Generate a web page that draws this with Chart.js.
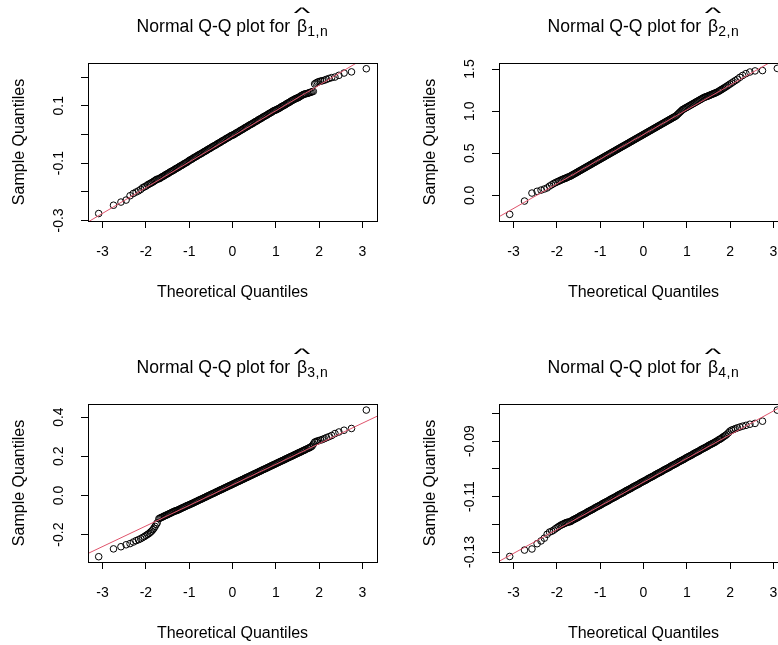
<!DOCTYPE html>
<html>
<head>
<meta charset="utf-8">
<script src="https://cdn.jsdelivr.net/npm/chart.js@4.4.1/dist/chart.umd.min.js"></script>
<style>
  html, body { margin: 0; padding: 0; background: #fff; }
  body { width: 778px; height: 645px; overflow: hidden; position: relative; font-family: "Liberation Sans", Arial, sans-serif; color: #000; }
  .panel { position: absolute; width: 411px; height: 341px; }
  .panel canvas { position: absolute; left: 0; top: 0; }
  .ttl { position: absolute; left: 0; top: 16.2px; width: 465px; text-align: center; font-size: 17.6px; line-height: 20px; white-space: nowrap; }
  .bh { position: relative; display: inline-block; margin-left: 2px; }
  .hat { position: absolute; left: 50%; top: -12.8px; transform: translateX(-50%) scale(2.0, 0.8); line-height: 20px; font-weight: 300; }
  .sub { font-size: 14px; letter-spacing: 0.6px; position: relative; top: 4px; }
</style>
</head>
<body>
<div class="panel" style="left:0;top:0"><canvas id="qq1" width="411" height="341"></canvas>
  <div class="ttl">Normal Q-Q plot for <span class="bh">β<span class="hat">^</span></span><span class="sub">1,n</span></div></div>
<div class="panel" style="left:411px;top:0"><canvas id="qq2" width="411" height="341"></canvas>
  <div class="ttl">Normal Q-Q plot for <span class="bh">β<span class="hat">^</span></span><span class="sub">2,n</span></div></div>
<div class="panel" style="left:0;top:341px"><canvas id="qq3" width="411" height="341"></canvas>
  <div class="ttl">Normal Q-Q plot for <span class="bh">β<span class="hat">^</span></span><span class="sub">3,n</span></div></div>
<div class="panel" style="left:411px;top:341px"><canvas id="qq4" width="411" height="341"></canvas>
  <div class="ttl">Normal Q-Q plot for <span class="bh">β<span class="hat">^</span></span><span class="sub">4,n</span></div></div>
<script>
// Q-Q 圖：理論分位數(四圖共用)與各估計量的樣本分位數，數值由圖上讀取
const theoQ = [
  -3.090, -2.748, -2.576, -2.457, -2.366, -2.290, -2.226, -2.170, -2.120, -2.075, -2.034,
  -1.995, -1.960, -1.927, -1.896, -1.866, -1.838, -1.812, -1.787, -1.762, -1.739,
  -1.700, -1.675, -1.650, -1.625, -1.600, -1.575, -1.550, -1.525,
  -1.500, -1.475, -1.450, -1.425, -1.400, -1.375, -1.350, -1.325,
  -1.300, -1.275, -1.250, -1.225, -1.200, -1.175, -1.150, -1.125,
  -1.100, -1.075, -1.050, -1.025, -1.000, -0.975, -0.950, -0.925,
  -0.900, -0.875, -0.850, -0.825, -0.800, -0.775, -0.750, -0.725,
  -0.700, -0.675, -0.650, -0.625, -0.600, -0.575, -0.550, -0.525,
  -0.500, -0.475, -0.450, -0.425, -0.400, -0.375, -0.350, -0.325,
  -0.300, -0.275, -0.250, -0.225, -0.200, -0.175, -0.150, -0.125,
  -0.100, -0.075, -0.050, -0.025, 0.000, 0.025, 0.050, 0.075,
  0.100, 0.125, 0.150, 0.175, 0.200, 0.225, 0.250, 0.275,
  0.300, 0.325, 0.350, 0.375, 0.400, 0.425, 0.450, 0.475,
  0.500, 0.525, 0.550, 0.575, 0.600, 0.625, 0.650, 0.675,
  0.700, 0.725, 0.750, 0.775, 0.800, 0.825, 0.850, 0.875,
  0.900, 0.925, 0.950, 0.975, 1.000, 1.025, 1.050, 1.075,
  1.100, 1.125, 1.150, 1.175, 1.200, 1.225, 1.250, 1.275,
  1.300, 1.325, 1.350, 1.375, 1.400, 1.425, 1.450, 1.475,
  1.500, 1.525, 1.550, 1.575, 1.600, 1.625, 1.650, 1.675,
  1.700,
  1.739, 1.762, 1.787, 1.812, 1.838, 1.866, 1.896, 1.927, 1.960, 1.995, 2.034, 2.075, 2.120, 2.170,
  2.226, 2.290, 2.366, 2.457, 2.576, 2.748, 3.090];

const sample1 = [
  -0.276, -0.247, -0.236, -0.229, -0.214, -0.206, -0.201, -0.197, -0.192, -0.186, -0.183,
  -0.180, -0.176, -0.173, -0.171, -0.168, -0.166, -0.163, -0.161, -0.158, -0.156,
  -0.155, -0.153, -0.150, -0.148, -0.146, -0.144, -0.141, -0.139,
  -0.137, -0.135, -0.132, -0.130, -0.128, -0.126, -0.124, -0.121,
  -0.119, -0.117, -0.115, -0.112, -0.110, -0.108, -0.106, -0.103,
  -0.101, -0.099, -0.097, -0.094, -0.091, -0.089, -0.087, -0.085,
  -0.082, -0.080, -0.078, -0.076, -0.073, -0.071, -0.069, -0.067,
  -0.065, -0.062, -0.060, -0.058, -0.056, -0.053, -0.051, -0.049,
  -0.047, -0.044, -0.042, -0.040, -0.038, -0.036, -0.033, -0.031,
  -0.029, -0.027, -0.024, -0.022, -0.020, -0.018, -0.015, -0.013,
  -0.011, -0.009, -0.006, -0.004, -0.003, -0.001, 0.001, 0.004,
  0.006, 0.008, 0.010, 0.013, 0.015, 0.017, 0.019, 0.022,
  0.024, 0.026, 0.028, 0.031, 0.033, 0.035, 0.037, 0.039,
  0.042, 0.044, 0.046, 0.048, 0.051, 0.053, 0.055, 0.057,
  0.060, 0.062, 0.064, 0.066, 0.068, 0.071, 0.073, 0.075,
  0.077, 0.080, 0.082, 0.084, 0.085, 0.087, 0.089, 0.091,
  0.093, 0.096, 0.098, 0.100, 0.102, 0.104, 0.107, 0.109,
  0.111, 0.113, 0.116, 0.118, 0.120, 0.122, 0.124, 0.126,
  0.127, 0.129, 0.131, 0.134, 0.136, 0.138, 0.140, 0.141,
  0.142,
  0.143, 0.145, 0.146, 0.147, 0.149, 0.150, 0.176, 0.179, 0.182, 0.184, 0.186, 0.187, 0.189, 0.192,
  0.195, 0.198, 0.200, 0.206, 0.214, 0.218, 0.229];

const sample2 = [
  -0.226, -0.068, 0.027, 0.048, 0.062, 0.075, 0.088, 0.110, 0.125, 0.140, 0.150,
  0.160, 0.168, 0.176, 0.183, 0.190, 0.196, 0.201, 0.206, 0.212, 0.218,
  0.225, 0.232, 0.240, 0.247, 0.254, 0.261, 0.269, 0.276,
  0.283, 0.291, 0.298, 0.305, 0.313, 0.320, 0.327, 0.335,
  0.342, 0.349, 0.357, 0.364, 0.371, 0.379, 0.386, 0.393,
  0.401, 0.408, 0.415, 0.423, 0.430, 0.437, 0.445, 0.452,
  0.459, 0.467, 0.474, 0.481, 0.489, 0.496, 0.503, 0.511,
  0.518, 0.525, 0.533, 0.540, 0.547, 0.555, 0.562, 0.569,
  0.577, 0.584, 0.591, 0.598, 0.606, 0.613, 0.620, 0.628,
  0.635, 0.642, 0.650, 0.657, 0.664, 0.672, 0.679, 0.686,
  0.694, 0.701, 0.708, 0.716, 0.723, 0.730, 0.738, 0.745,
  0.752, 0.760, 0.767, 0.774, 0.782, 0.789, 0.796, 0.804,
  0.811, 0.818, 0.826, 0.833, 0.840, 0.848, 0.855, 0.862,
  0.870, 0.877, 0.884, 0.892, 0.899, 0.906, 0.914, 0.921,
  0.928, 0.935, 0.943, 0.955, 0.967, 0.980, 0.992, 1.004,
  1.017, 1.024, 1.031, 1.039, 1.046, 1.053, 1.061, 1.068,
  1.075, 1.083, 1.090, 1.097, 1.105, 1.112, 1.119, 1.127,
  1.134, 1.141, 1.149, 1.156, 1.163, 1.168, 1.172, 1.177,
  1.182, 1.188, 1.193, 1.199, 1.204, 1.209, 1.214, 1.220,
  1.226,
  1.236, 1.244, 1.252, 1.260, 1.268, 1.277, 1.287, 1.297, 1.309, 1.321, 1.334, 1.348, 1.363, 1.380,
  1.402, 1.424, 1.446, 1.465, 1.478, 1.482, 1.508];

const sample3 = [
  -0.313, -0.273, -0.262, -0.252, -0.246, -0.238, -0.231, -0.226, -0.221, -0.215, -0.210,
  -0.204, -0.199, -0.194, -0.188, -0.182, -0.175, -0.167, -0.158, -0.148, -0.140,
  -0.119, -0.116, -0.113, -0.111, -0.108, -0.105, -0.103, -0.100,
  -0.098, -0.095, -0.092, -0.090, -0.087, -0.084, -0.082, -0.079,
  -0.078, -0.076, -0.073, -0.071, -0.068, -0.065, -0.063, -0.060,
  -0.058, -0.055, -0.052, -0.050, -0.048, -0.045, -0.043, -0.040,
  -0.038, -0.035, -0.032, -0.030, -0.027, -0.024, -0.022, -0.019,
  -0.017, -0.014, -0.011, -0.009, -0.006, -0.003, -0.001, 0.002,
  0.005, 0.007, 0.010, 0.012, 0.015, 0.018, 0.020, 0.023,
  0.026, 0.028, 0.031, 0.033, 0.036, 0.039, 0.041, 0.044,
  0.047, 0.049, 0.052, 0.054, 0.057, 0.060, 0.062, 0.065,
  0.068, 0.070, 0.073, 0.075, 0.078, 0.081, 0.083, 0.086,
  0.089, 0.091, 0.094, 0.096, 0.099, 0.102, 0.104, 0.107,
  0.110, 0.112, 0.115, 0.117, 0.120, 0.123, 0.125, 0.128,
  0.131, 0.133, 0.136, 0.138, 0.141, 0.144, 0.146, 0.149,
  0.152, 0.154, 0.157, 0.159, 0.162, 0.165, 0.167, 0.170,
  0.173, 0.175, 0.178, 0.180, 0.183, 0.186, 0.188, 0.191,
  0.194, 0.196, 0.199, 0.201, 0.204, 0.207, 0.209, 0.212,
  0.215, 0.217, 0.220, 0.222, 0.225, 0.228, 0.230, 0.233,
  0.236,
  0.240, 0.242, 0.245, 0.248, 0.252, 0.262, 0.272, 0.275, 0.278, 0.280, 0.283, 0.286, 0.290, 0.295,
  0.300, 0.306, 0.316, 0.324, 0.333, 0.342, 0.436];

const sample4 = [
  -0.1316, -0.1293, -0.1289, -0.1270, -0.1260, -0.1250, -0.1236, -0.1228, -0.1225, -0.1221, -0.1216,
  -0.1212, -0.1208, -0.1205, -0.1202, -0.1200, -0.1198, -0.1196, -0.1194, -0.1193, -0.1192,
  -0.1191, -0.1189, -0.1186, -0.1184, -0.1182, -0.1180, -0.1178, -0.1176,
  -0.1174, -0.1171, -0.1169, -0.1167, -0.1165, -0.1163, -0.1161, -0.1159,
  -0.1156, -0.1154, -0.1152, -0.1150, -0.1148, -0.1146, -0.1144, -0.1141,
  -0.1139, -0.1137, -0.1135, -0.1133, -0.1131, -0.1129, -0.1126, -0.1124,
  -0.1122, -0.1120, -0.1118, -0.1116, -0.1114, -0.1111, -0.1109, -0.1107,
  -0.1105, -0.1103, -0.1101, -0.1099, -0.1096, -0.1094, -0.1092, -0.1090,
  -0.1088, -0.1086, -0.1084, -0.1081, -0.1079, -0.1077, -0.1075, -0.1073,
  -0.1071, -0.1069, -0.1066, -0.1064, -0.1062, -0.1060, -0.1058, -0.1056,
  -0.1054, -0.1051, -0.1049, -0.1047, -0.1045, -0.1043, -0.1041, -0.1039,
  -0.1036, -0.1034, -0.1032, -0.1030, -0.1028, -0.1026, -0.1024, -0.1021,
  -0.1019, -0.1017, -0.1015, -0.1013, -0.1011, -0.1009, -0.1006, -0.1004,
  -0.1002, -0.1000, -0.0998, -0.0996, -0.0994, -0.0991, -0.0989, -0.0987,
  -0.0985, -0.0983, -0.0981, -0.0979, -0.0976, -0.0974, -0.0972, -0.0970,
  -0.0968, -0.0966, -0.0964, -0.0961, -0.0959, -0.0957, -0.0955, -0.0953,
  -0.0951, -0.0949, -0.0946, -0.0944, -0.0942, -0.0940, -0.0938, -0.0936,
  -0.0934, -0.0931, -0.0929, -0.0927, -0.0925, -0.0923, -0.0921, -0.0919,
  -0.0916, -0.0914, -0.0912, -0.0910, -0.0908, -0.0906, -0.0904, -0.0901,
  -0.0899,
  -0.0895, -0.0893, -0.0891, -0.0888, -0.0885, -0.0882, -0.0879, -0.0875, -0.0870, -0.0864, -0.0860, -0.0858, -0.0855, -0.0852,
  -0.0849, -0.0846, -0.0843, -0.0839, -0.0836, -0.0828, -0.0788];

// qqline 兩端點 (x, y)
const refLine1 = [[-3.4, -0.311], [3.4, 0.297]];
const refLine2 = [[-3.4, -0.273], [3.4, 1.719]];
const refLine3 = [[-3.4, -0.303], [3.4, 0.411]];
const refLine4 = [[-3.4, -0.1339], [3.4, -0.0757]];

const xRange = [-3.337, 3.337];
const xTicks = [-3, -2, -1, 0, 1, 2, 3];
const xTickLabels = ['-3', '-2', '-1', '0', '1', '2', '3'];

const yRange1 = [-0.302, 0.249];
const yTicks1 = [-0.3, -0.2, -0.1, 0, 0.1, 0.2];
const yTickLabels1 = ['-0.3', '', '-0.1', '', '0.1', ''];
const yRange2 = [-0.305, 1.572];
const yTicks2 = [0, 0.5, 1, 1.5];
const yTickLabels2 = ['0.0', '0.5', '1.0', '1.5'];
const yRange3 = [-0.340, 0.467];
const yTicks3 = [-0.2, 0, 0.2, 0.4];
const yTickLabels3 = ['-0.2', '0.0', '0.2', '0.4'];
const yRange4 = [-0.1336, -0.0766];
const yTicks4 = [-0.13, -0.12, -0.11, -0.10, -0.09, -0.08];
const yTickLabels4 = ['-0.13', '', '-0.11', '', '-0.09', ''];

const FONT = '"Liberation Sans", Arial, sans-serif';
const RED = '#DF536B';
const TICK_SIZE = 14;
Chart.defaults.font.family = FONT;
Chart.defaults.color = '#000';

// 外框（R 的 box()）
const boxPlugin = {
  id: 'box',
  afterDatasetsDraw(chart) {
    const { ctx, chartArea: a } = chart;
    ctx.save();
    ctx.strokeStyle = '#000';
    ctx.lineWidth = 1;
    ctx.strokeRect(Math.round(a.left) + 0.5, Math.round(a.top) + 0.5, Math.round(a.width), Math.round(a.height));
    ctx.restore();
  },
};

// 旋轉的 y 刻度文字置中於 x≈59.5
const mctx = document.createElement('canvas').getContext('2d');
function yLabelPad(labels) {
  mctx.font = `normal ${TICK_SIZE}px ${FONT}`;
  const widest = Math.max(...labels.map((l) => mctx.measureText(l).width));
  return 21.5 - widest / 2;
}

const tickGrid = { drawOnChartArea: false, drawTicks: true, tickLength: 7, tickColor: '#000', tickWidth: 1 };

function qqPanel(id, sample, yRange, yTicks, yLabels, refLine) {
  const pts = theoQ.map((x, i) => ({ x, y: sample[i] }));
  const line = refLine.map(([x, y]) => ({ x, y }));
  return new Chart(document.getElementById(id), {
    type: 'scatter',
    data: {
      datasets: [
        { data: line, showLine: true, borderColor: RED, borderWidth: 1, pointRadius: 0, order: 0, clip: 0 },
        { data: pts, pointStyle: 'circle', pointRadius: 3.3, borderWidth: 1, borderColor: '#000',
          backgroundColor: 'rgba(0,0,0,0)', order: 1 },
      ],
    },
    options: {
      responsive: false, animation: false, events: [],
      layout: { padding: { left: 0, top: 63, right: 34, bottom: 0 } },
      plugins: { legend: { display: false }, tooltip: { enabled: false } },
      scales: {
        x: {
          type: 'linear', min: xRange[0], max: xRange[1],
          afterBuildTicks: (s) => { s.ticks = xTicks.map((v) => ({ value: v })); },
          afterFit: (s) => { s.height = 120; },
          border: { display: false },
          grid: tickGrid,
          ticks: { autoSkip: false, maxRotation: 0, padding: 15.6, font: { size: TICK_SIZE },
            callback: (v, i) => xTickLabels[i] },
          title: { display: true, text: 'Theoretical Quantiles', font: { size: 16 }, padding: { top: 0, bottom: 38.6 } },
        },
        y: {
          type: 'linear', min: yRange[0], max: yRange[1],
          afterBuildTicks: (s) => { s.ticks = yTicks.map((v) => ({ value: v })); },
          afterFit: (s) => { s.width = 88; },
          border: { display: false },
          grid: tickGrid,
          ticks: { autoSkip: false, minRotation: 90, maxRotation: 90, crossAlign: 'center',
            padding: yLabelPad(yLabels), font: { size: TICK_SIZE }, callback: (v, i) => yLabels[i] },
          title: { display: true, text: 'Sample Quantiles', font: { size: 16 }, padding: { top: 9.9, bottom: 0 } },
        },
      },
    },
    plugins: [boxPlugin],
  });
}

qqPanel('qq1', sample1, yRange1, yTicks1, yTickLabels1, refLine1);
qqPanel('qq2', sample2, yRange2, yTicks2, yTickLabels2, refLine2);
qqPanel('qq3', sample3, yRange3, yTicks3, yTickLabels3, refLine3);
qqPanel('qq4', sample4, yRange4, yTicks4, yTickLabels4, refLine4);
</script>
</body>
</html>
